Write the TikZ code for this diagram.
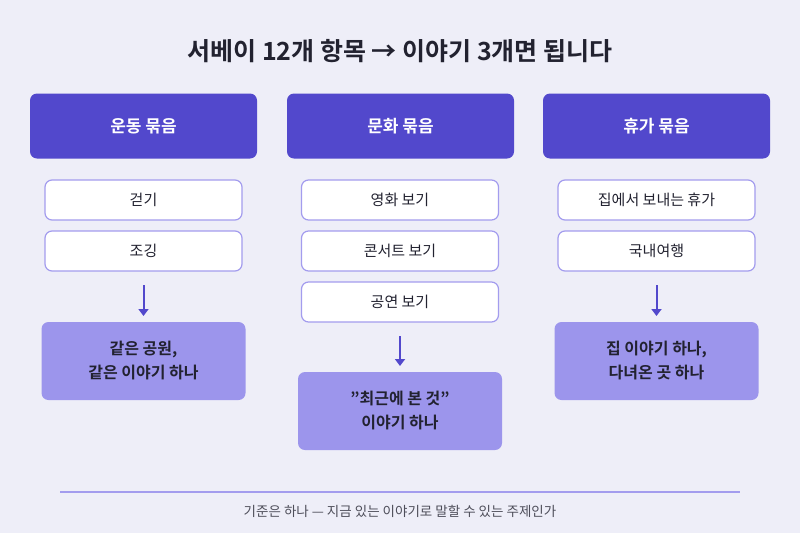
\documentclass[tikz,border=0pt]{standalone}
\usetikzlibrary{arrows.meta}
\usepackage{fontspec}
\setmainfont{Noto Sans CJK KR}[BoldFont={* Bold}]
\definecolor{bg}{HTML}{EEEEF8}
\definecolor{hdr}{HTML}{5248CC}
\definecolor{res}{HTML}{9C95EC}
\definecolor{brd}{HTML}{A39CEE}
\definecolor{ink}{HTML}{222230}
\begin{document}
\begin{tikzpicture}[x=1pt,y=-1pt,
  hd/.style={rectangle,rounded corners=7pt,fill=hdr,text=white,font=\fontsize{17}{20}\selectfont\bfseries,minimum width=227pt,minimum height=65pt},
  it/.style={rectangle,rounded corners=7pt,fill=white,draw=brd,line width=1.2pt,text=ink,font=\fontsize{15}{18}\selectfont,minimum width=197pt,minimum height=40pt},
  rs/.style={rectangle,rounded corners=7pt,fill=res,text=ink,font=\fontsize{16}{24}\selectfont\bfseries,minimum width=204pt,minimum height=78pt,align=center},
  ar/.style={-{Triangle[length=7pt,width=10pt]},line width=2pt,draw=hdr}]
\fill[bg] (0,0) rectangle (800,533);
\node[font=\fontsize{25}{30}\selectfont\bfseries,text=ink] (t) at (400,51) {서베이 12개 항목 → 이야기 3개면 됩니다};
\node[hd] (h1) at (143.5,126) {운동 묶음};
\node[hd] (h2) at (400.5,126) {문화 묶음};
\node[hd] (h3) at (656.5,126) {휴가 묶음};
\node[it] (a1) at (143.5,200) {걷기};
\node[it] (a2) at (143.5,251) {조깅};
\node[it] (b1) at (400,200) {영화 보기};
\node[it] (b2) at (400,251) {콘서트 보기};
\node[it] (b3) at (400,302) {공연 보기};
\node[it] (c1) at (656.5,200) {집에서 보내는 휴가};
\node[it] (c2) at (656.5,251) {국내여행};
\node[rs] (r1) at (143.5,361) {같은 공원,\\같은 이야기 하나};
\node[rs] (r2) at (400,411) {"최근에 본 것"\\이야기 하나};
\node[rs] (r3) at (656.5,361) {집 이야기 하나,\\다녀온 곳 하나};
\coordinate (p1) at (143.5,285); \coordinate (q1) at (143.5,316);
\coordinate (p2) at (400,336); \coordinate (q2) at (400,366);
\coordinate (p3) at (656.5,285); \coordinate (q3) at (656.5,316);
\draw[ar] (p1) -- (q1); \draw[ar] (p2) -- (q2); \draw[ar] (p3) -- (q3);
\coordinate (l1) at (60,492); \coordinate (l2) at (740,492);
\draw[brd,line width=1.2pt] (l1) -- (l2);
\node[font=\fontsize{13.5}{16}\selectfont,text=ink!80] (f) at (400,511) {기준은 하나 — 지금 있는 이야기로 말할 수 있는 주제인가};
\end{tikzpicture}
\end{document}
